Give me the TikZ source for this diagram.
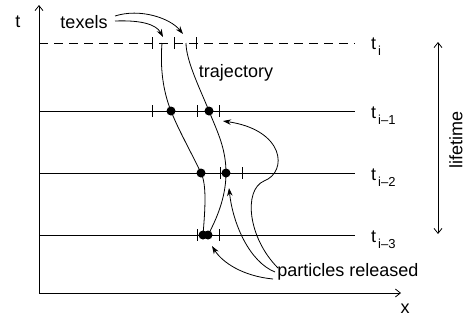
\documentclass[tikz,border=0pt]{standalone}
\usepackage{fontspec}
\setmainfont{Liberation Sans}
\usetikzlibrary{arrows.meta,calc}
\newcommand{\sub}[1]{\kern2pt\raisebox{-6pt}{\fontsize{13}{13}\selectfont #1}}
\begin{document}
\begin{tikzpicture}[x=1pt,y=-1pt,
  lab/.style={font=\fontsize{18}{21}\selectfont, inner sep=0pt},
  ln/.style={line width=0.8pt},
  dot/.style={circle, fill=black, minimum size=9pt, inner sep=0pt},
  parrow/.style={line width=0.8pt, -{Stealth[length=8pt,width=5.5pt]}},
  openarr/.style={line width=0.8pt, -{Straight Barb[length=5pt,width=8pt]}},
]
\useasboundingbox (0,0) rectangle (468,325);
% axes
\coordinate (O) at (39,293);
\coordinate (Ttop) at (39,5);
\coordinate (Xend) at (401,293);
\draw[openarr] (O) -- (Ttop);
\draw[openarr] (O) -- (Xend);
\node[lab] (tlab) at (18,22) {t};
\node[lab] (xlab) at (405,309) {x};
% time lines
\coordinate (L0) at (39,43);  \coordinate (R0) at (355,43);
\coordinate (L1) at (39,111); \coordinate (R1) at (355,111);
\coordinate (L2) at (39,173); \coordinate (R2) at (355,173);
\coordinate (L3) at (39,235); \coordinate (R3) at (355,235);
\draw[ln, dash pattern=on 9pt off 6pt] (L0) -- (R0);
\draw[ln] (L1) -- (R1);
\draw[ln] (L2) -- (R2);
\draw[ln] (L3) -- (R3);
\node[lab, anchor=base west] (ti)  at (371,49)  {t\sub{i}};
\node[lab, anchor=base west] (ti1) at (371,118) {t\sub{i–1}};
\node[lab, anchor=base west] (ti2) at (371,180) {t\sub{i–2}};
\node[lab, anchor=base west] (ti3) at (371,242) {t\sub{i–3}};
% lifetime
\coordinate (lt) at (438,42);
\coordinate (lb) at (438,234);
\draw[line width=0.8pt, {Straight Barb[length=5pt,width=8pt]}-{Straight Barb[length=5pt,width=8pt]}] (lt) -- (lb);
\node[lab, rotate=90] (life) at (456,140) {lifetime};
% ticks
\foreach \x/\y in {152/43,174/43,196/43, 152/111,197/111,219/111, 220/173,242/173, 197/235,219/235}
  \draw[ln] (\x,\y-6) -- (\x,\y+6);
% trajectories
\coordinate (a0) at (162,43);
\coordinate (b0) at (186,43);
\node[dot] (a1) at (171,111) {};
\node[dot] (b1) at (209,111) {};
\node[dot] (a2) at (201,173) {};
\node[dot] (b2) at (226,173) {};
\node[dot] (a3) at (203,235) {};
\node[dot] (b3) at (208,235) {};
\draw[ln] (a0) .. controls +(-2,25) and +(-8,-20) .. (a1.center);
\draw[ln] (a1.center) .. controls +(8,20) and +(-12,-25) .. (a2.center);
\draw[ln] (a2.center) .. controls +(6,12) and +(2,-25) .. (a3.center);
\draw[ln] (b0) .. controls +(0,18) and +(-8,-20) .. (b1.center);
\draw[ln] (b1.center) .. controls +(8,20) and +(0,-25) .. (b2.center);
\draw[ln] (b2.center) .. controls +(0,25) and +(8,-15) .. (b3.center);
\node[lab] (traj) at (236,73) {trajectory};
% texels
\node[lab] (tex) at (84,22) {texels};
\coordinate (t1) at (183,34);
\coordinate (t2) at (163,37);
\draw[parrow] (115,16) .. controls (140,8) and (170,18) .. (t1);
\draw[parrow] (115,21) .. controls (140,20) and (156,24) .. (t2);
% particles released
\node[lab] (pr) at (348,272) {particles released};
\coordinate (p1) at (212,246);
\coordinate (p2) at (229,188);
\coordinate (p3) at (223,121);
\draw[parrow] (273,279) .. controls (242,276) and (222,262) .. (p1);
\draw[parrow] (275,272) .. controls (250,262) and (233,225) .. (p2);
\draw[parrow] (278,268) .. controls (248,238) and (243,190) .. (264,181)
   .. controls (288,172) and (285,130) .. (p3);
\end{tikzpicture}
\end{document}
